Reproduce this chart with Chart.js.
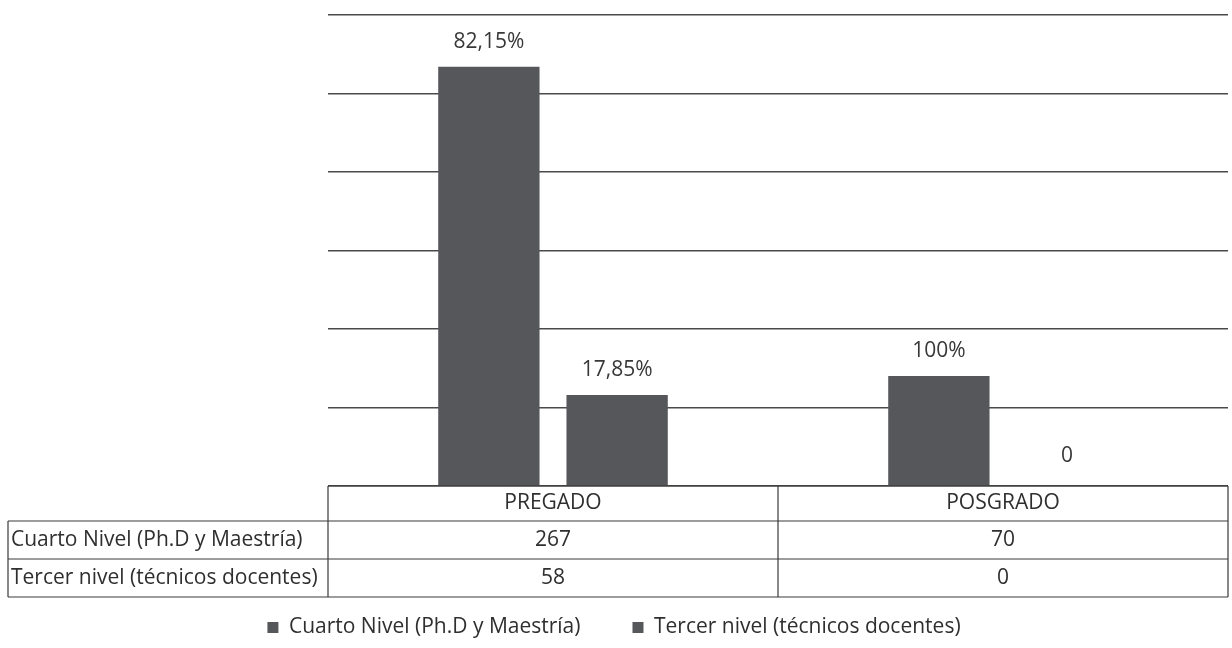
<!DOCTYPE html>
<html>
<head>
<meta charset="utf-8">
<script src="https://cdn.jsdelivr.net/npm/chart.js@4"></script>
<style>
  html, body { margin: 0; padding: 0; background: #ffffff; }
  #wrap { width: 1232px; height: 648px; }
</style>
</head>
<body>
<div id="wrap"><canvas id="c" width="1232" height="648"></canvas></div>
<script>
const categories = ['PREGADO', 'POSGRADO'];
const seriesNames = ['Cuarto Nivel (Ph.D y Maestría)', 'Tercer nivel (técnicos docentes)'];
const cuartoNivel = [267, 70];
const tercerNivel = [58, 0];
const cuartoLabels = ['82,15%', '100%'];
const tercerLabels = ['17,85%', '0'];
const yMax = 300;
const yStep = 50;

const FONT = '"Open Sans", "Noto Sans", sans-serif';
const FSIZE = 21;
const BAR = '#56575b';
const TEXT = '#2f2f2f';

const dataLabelPlugin = {
  id: 'dataLabels',
  afterDatasetsDraw(chart) {
    const ctx = chart.ctx;
    const lbls = [cuartoLabels, tercerLabels];
    ctx.save();
    ctx.font = FSIZE + 'px ' + FONT;
    ctx.fillStyle = '#383838';
    ctx.textAlign = 'center';
    ctx.textBaseline = 'middle';
    chart.data.datasets.forEach((ds, di) => {
      const meta = chart.getDatasetMeta(di);
      meta.data.forEach((bar, i) => {
        const off = ds.data[i] === 0 ? 30 : 25;
        ctx.fillText(lbls[di][i], bar.x, bar.y - off);
      });
    });
    ctx.restore();
  }
};

const tablePlugin = {
  id: 'dataTable',
  afterDraw(chart) {
    const ctx = chart.ctx;
    const ca = chart.chartArea;
    const xs = chart.scales.x;
    const n = categories.length;
    const catW = (ca.right - ca.left) / n;
    const top = ca.bottom;
    const rows = [top, top + 35, top + 73, top + 111];
    const leftEdge = 8;
    ctx.save();
    ctx.strokeStyle = '#3a3a3a';
    ctx.lineWidth = 1.2;
    ctx.beginPath();
    ctx.moveTo(ca.left, rows[0]); ctx.lineTo(ca.right, rows[0]);
    ctx.moveTo(leftEdge, rows[1]); ctx.lineTo(ca.right, rows[1]);
    ctx.moveTo(leftEdge, rows[2]); ctx.lineTo(ca.right, rows[2]);
    ctx.moveTo(leftEdge, rows[3]); ctx.lineTo(ca.right, rows[3]);
    ctx.moveTo(leftEdge, rows[1]); ctx.lineTo(leftEdge, rows[3]);
    for (let i = 0; i <= n; i++) {
      const x = ca.left + i * catW;
      ctx.moveTo(x, rows[0]); ctx.lineTo(x, rows[3]);
    }
    ctx.stroke();
    ctx.font = FSIZE + 'px ' + FONT;
    ctx.fillStyle = TEXT;
    ctx.textBaseline = 'middle';
    ctx.textAlign = 'center';
    const vals = [cuartoNivel, tercerNivel];
    for (let i = 0; i < n; i++) {
      const cx = xs.getPixelForValue(i);
      ctx.fillText(categories[i], cx, (rows[0] + rows[1]) / 2);
      ctx.fillText(String(vals[0][i]), cx, (rows[1] + rows[2]) / 2);
      ctx.fillText(String(vals[1][i]), cx, (rows[2] + rows[3]) / 2);
    }
    ctx.textAlign = 'left';
    ctx.fillText(seriesNames[0], leftEdge + 3, (rows[1] + rows[2]) / 2);
    ctx.fillText(seriesNames[1], leftEdge + 3, (rows[2] + rows[3]) / 2);
    ctx.restore();
  }
};

new Chart(document.getElementById('c'), {
  type: 'bar',
  data: {
    labels: categories,
    datasets: [
      { label: seriesNames[0], data: cuartoNivel, backgroundColor: BAR, borderWidth: 0,
        categoryPercentage: 0.57, barPercentage: 0.79 },
      { label: seriesNames[1], data: tercerNivel, backgroundColor: BAR, borderWidth: 0,
        categoryPercentage: 0.57, barPercentage: 0.79 }
    ]
  },
  options: {
    responsive: false,
    animation: false,
    devicePixelRatio: 1,
    layout: { padding: { top: 15, right: 4, left: 0, bottom: 0 } },
    scales: {
      x: {
        ticks: { display: false },
        grid: { display: false },
        border: { display: false },
        afterFit(s) { s.height = 79; }
      },
      y: {
        min: 0, max: yMax,
        ticks: { display: false, stepSize: yStep },
        grid: { color: '#4a4a4a', lineWidth: 1.4, drawTicks: false },
        border: { display: false },
        afterFit(s) { s.width = 328; }
      }
    },
    plugins: {
      tooltip: { enabled: false },
      legend: {
        position: 'bottom',
        labels: {
          font: { family: FONT, size: FSIZE },
          color: TEXT,
          boxWidth: 11,
          boxHeight: 11,
          padding: 52
        }
      }
    }
  },
  plugins: [dataLabelPlugin, tablePlugin]
});
</script>
</body>
</html>
